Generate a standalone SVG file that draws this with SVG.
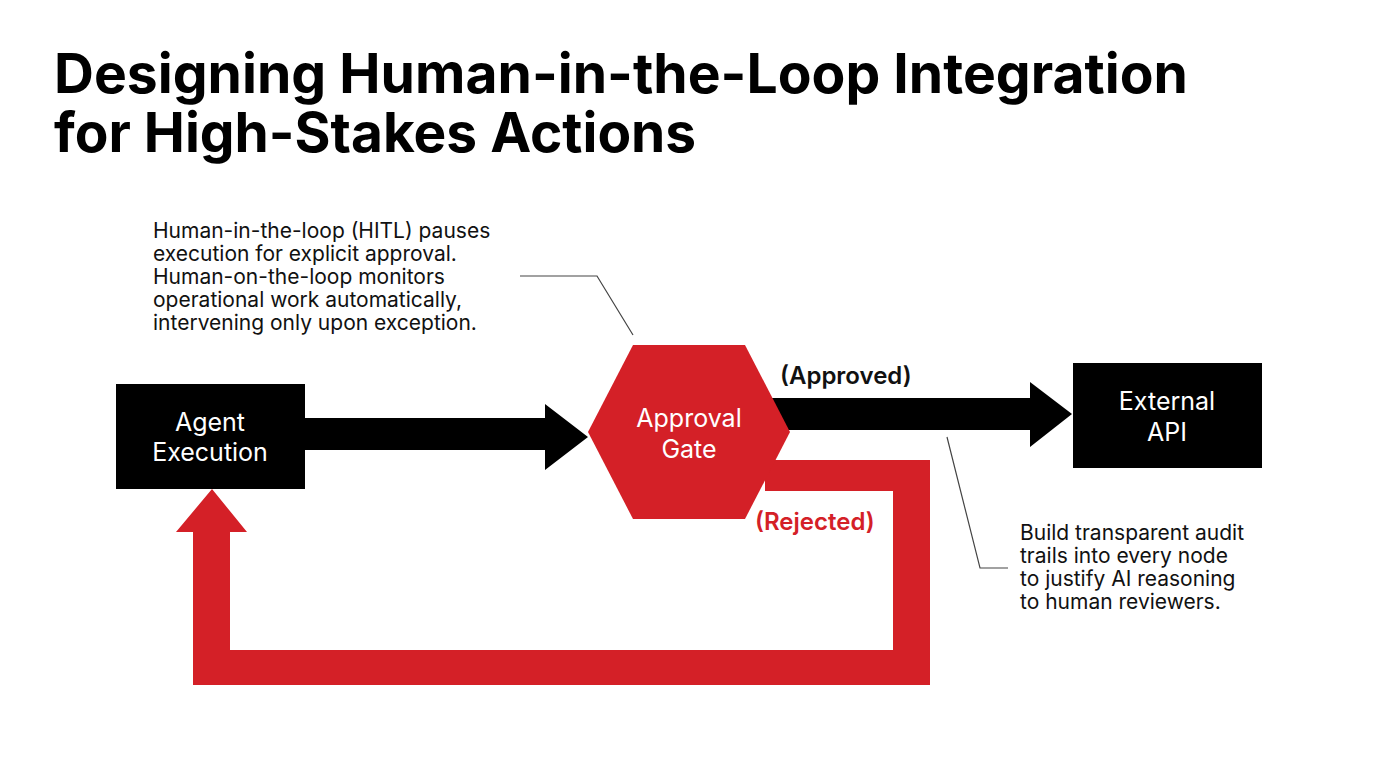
<svg xmlns="http://www.w3.org/2000/svg" width="1376" height="768" viewBox="0 0 1376 768">
<style>
.t{font-family:Inter,"Liberation Sans",sans-serif;font-weight:700;font-size:55px;fill:#000}
.n{font-family:Inter,"Liberation Sans",sans-serif;font-size:21px;fill:#111}
.w{font-family:Inter,"Liberation Sans",sans-serif;font-size:25px;fill:#fff;text-anchor:middle}
.l{font-family:Inter,"Liberation Sans",sans-serif;font-size:24px;font-weight:600}
.ld{fill:none;stroke:#444;stroke-width:1.2}
</style>
<rect width="1376" height="768" fill="#fff"/>
<text class="t" x="54" y="93" textLength="1134" lengthAdjust="spacingAndGlyphs">Designing Human-in-the-Loop Integration</text>
<text class="t" x="54" y="152">for High-Stakes Actions</text>
<g id="note1"><text class="n" x="153" y="238">Human-in-the-loop (HITL) pauses</text>
<text class="n" x="153" y="261">execution for explicit approval.</text>
<text class="n" x="153" y="284">Human-on-the-loop monitors</text>
<text class="n" x="153" y="307">operational work automatically,</text>
<text class="n" x="153" y="330">intervening only upon exception.</text></g>
<g id="note2"><text class="n" x="1020" y="540">Build transparent audit</text>
<text class="n" x="1020" y="563">trails into every node</text>
<text class="n" x="1020" y="586">to justify AI reasoning</text>
<text class="n" x="1020" y="609">to human reviewers.</text></g>
<g id="connectors">
<polyline class="ld" points="520,276 597,276 633,335"/>
<polyline class="ld" points="947,437 980,568 1008,568"/>
<polygon fill="#000" points="305,418 545,418 545,404 588,437 545,470 545,450 305,450"/>
<polygon fill="#000" points="770,398 1030,398 1030,382 1072,414 1030,447 1030,430 770,430"/>
<polygon fill="#d42027" points="765,460 930,460 930,685 193,685 193,532 176,532 212,489 247,532 230,532 230,650 893,650 893,491 765,491"/>
<text class="l" x="780" y="384" fill="#111">(Approved)</text>
<text class="l" x="755" y="530" fill="#d42027">(Rejected)</text>
</g>
<g id="agent"><rect x="116" y="384" width="189" height="105" fill="#000"/>
<text class="w" x="210" y="431">Agent</text><text class="w" x="210" y="461">Execution</text></g>
<g id="gate"><polygon fill="#d42027" points="588,432 633,345 745,345 790,432 745,519 633,519"/>
<text class="w" x="689" y="427">Approval</text><text class="w" x="689" y="458">Gate</text></g>
<g id="api"><rect x="1073" y="363" width="189" height="105" fill="#000"/>
<text class="w" x="1167" y="410">External</text><text class="w" x="1167" y="441">API</text></g>
</svg>
